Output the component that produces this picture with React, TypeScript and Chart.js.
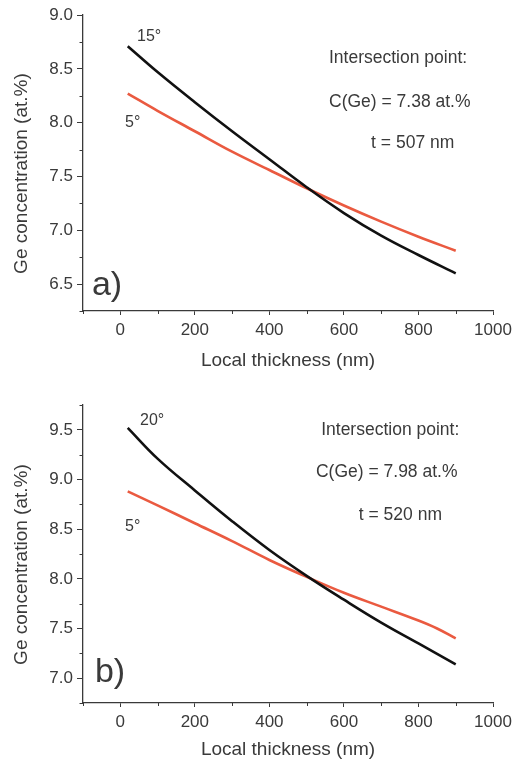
import React, { useEffect, useRef } from 'react';
import { Chart, registerables } from 'chart.js';

Chart.register(...registerables);

// ---------- data ----------
// Panel a)
const thicknessA15 = [20, 100, 200, 300, 400, 500, 600, 700, 800, 900];
const geA15 = [8.71, 8.47, 8.19, 7.92, 7.66, 7.40, 7.16, 6.95, 6.77, 6.60];
const thicknessA5 = [20, 100, 200, 300, 400, 500, 600, 700, 800, 900];
const geA5 = [8.27, 8.11, 7.92, 7.73, 7.56, 7.39, 7.23, 7.08, 6.94, 6.81];

// Panel b)
const thicknessB20 = [20, 100, 200, 300, 400, 500, 600, 700, 800, 900];
const geB20 = [9.52, 9.21, 8.89, 8.58, 8.29, 8.03, 7.79, 7.56, 7.35, 7.14];
const thicknessB5 = [20, 100, 200, 300, 400, 500, 600, 700, 800, 850, 900];
const geB5 = [8.88, 8.74, 8.56, 8.38, 8.19, 8.02, 7.86, 7.72, 7.58, 7.50, 7.40];

// Tick labels
const xTickLabels = [0, 200, 400, 600, 800, 1000];
const yTickLabelsA = [6.5, 7.0, 7.5, 8.0, 8.5, 9.0];
const yTickLabelsB = [7.0, 7.5, 8.0, 8.5, 9.0, 9.5];

// Texts
const xTitle = 'Local thickness (nm)';
const yTitle = 'Ge concentration (at.%)';
const textsA = ['15°', '5°', 'a)', 'Intersection point:', 'C(Ge) = 7.38 at.%', 't = 507 nm'];
const textsB = ['20°', '5°', 'b)', 'Intersection point:', 'C(Ge) = 7.98 at.%', 't = 520 nm'];

// ---------- styling / layout ----------
const FONT = '"Liberation Sans", Arial, Helvetica, sans-serif';
const AXIS_COLOR = '#3a3a3a';
const TEXT_COLOR = '#3a3a3a';
const BLACK = '#111111';
const RED = '#ea5a40';

// annotation placement in data coordinates (x, y) plus font size
const placeA = [
  { x: 45, y: 8.8, size: 16 },
  { x: 13, y: 8.0, size: 16 },
  { x: -76, y: 6.49, size: 34 },
  { x: 560, y: 8.6, size: 17.5 },
  { x: 560, y: 8.19, size: 17.5 },
  { x: 673, y: 7.81, size: 17.5 },
];
const placeB = [
  { x: 53, y: 9.59, size: 16 },
  { x: 13, y: 8.53, size: 16 },
  { x: -68, y: 7.06, size: 34 },
  { x: 539, y: 9.5, size: 17.5 },
  { x: 525, y: 9.07, size: 17.5 },
  { x: 640, y: 8.64, size: 17.5 },
];

const isMultiple = (v: number, step: number) =>
  Math.abs(v / step - Math.round(v / step)) < 1e-6;

const overlayPlugin = {
  id: 'overlay',
  afterDraw(chart: any, _args: any, opts: any) {
    const ctx = chart.ctx;
    const xs = chart.scales.x;
    const ys = chart.scales.y;
    ctx.save();
    // minor ticks (short)
    ctx.strokeStyle = AXIS_COLOR;
    ctx.lineWidth = 1;
    ctx.beginPath();
    xs.ticks.forEach((t: any) => {
      if (!isMultiple(t.value, 200)) {
        const px = Math.round(xs.getPixelForValue(t.value)) + 0.5;
        ctx.moveTo(px, xs.top);
        ctx.lineTo(px, xs.top + 3);
      }
    });
    ys.ticks.forEach((t: any) => {
      if (!isMultiple(t.value, 0.5)) {
        const py = Math.round(ys.getPixelForValue(t.value)) + 0.5;
        ctx.moveTo(ys.right - 3.5, py);
        ctx.lineTo(ys.right, py);
      }
    });
    ctx.stroke();
    // annotation texts
    ctx.fillStyle = TEXT_COLOR;
    ctx.textAlign = 'left';
    ctx.textBaseline = 'middle';
    (opts.texts || []).forEach((txt: string, i: number) => {
      const p = opts.place[i];
      ctx.font = `${p.size}px ${FONT}`;
      ctx.fillText(txt, xs.getPixelForValue(p.x), ys.getPixelForValue(p.y));
    });
    ctx.restore();
  },
};

type PanelProps = {
  x1: number[]; y1: number[]; x2: number[]; y2: number[];
  yMin: number; yMax: number; yLabels: number[];
  texts: string[]; place: any[];
  height: number; padTop: number; xAxisHeight: number; xTitlePad: number;
};

function Panel(p: PanelProps) {
  const ref = useRef<HTMLCanvasElement>(null);
  useEffect(() => {
    if (!ref.current) return;
    const chart = new Chart(ref.current, {
      type: 'line',
      data: {
        datasets: [
          {
            data: p.x1.map((x, i) => ({ x, y: p.y1[i] })),
            borderColor: BLACK,
            borderWidth: 2.6,
            pointRadius: 0,
            tension: 0.4,
          },
          {
            data: p.x2.map((x, i) => ({ x, y: p.y2[i] })),
            borderColor: RED,
            borderWidth: 2.6,
            pointRadius: 0,
            tension: 0.4,
          },
        ],
      },
      options: {
        animation: false,
        responsive: false,
        layout: { padding: { top: p.padTop, right: 19, left: 0, bottom: 0 } },
        plugins: {
          legend: { display: false },
          tooltip: { enabled: false },
          overlay: { texts: p.texts, place: p.place },
        } as any,
        scales: {
          x: {
            type: 'linear',
            min: -100,
            max: 1000,
            afterFit: (s: any) => {
              s.height = p.xAxisHeight;
              s.paddingLeft = 0;
              s.paddingRight = 0;
            },
            ticks: {
              stepSize: 100,
              autoSkip: false,
              maxTicksLimit: 100,
              maxRotation: 0,
              padding: 5,
              color: TEXT_COLOR,
              font: { family: FONT, size: 17 },
              callback: (v: any) => (xTickLabels.includes(Number(v)) ? String(v) : ''),
            },
            grid: {
              drawOnChartArea: false,
              drawTicks: true,
              tickLength: 4,
              tickWidth: 1,
              tickColor: (c: any) =>
                c.tick && isMultiple(c.tick.value, 200) ? AXIS_COLOR : 'rgba(0,0,0,0)',
            },
            border: { display: true, color: AXIS_COLOR, width: 1.3 },
            title: {
              display: true,
              text: xTitle,
              color: TEXT_COLOR,
              font: { family: FONT, size: 19 },
              padding: { top: 0, bottom: p.xTitlePad },
            },
          },
          y: {
            type: 'linear',
            min: p.yMin,
            max: p.yMax,
            afterFit: (s: any) => {
              s.width = 83;
              s.paddingTop = 0;
              s.paddingBottom = 0;
            },
            ticks: {
              stepSize: 0.25,
              autoSkip: false,
              maxTicksLimit: 100,
              padding: 4,
              color: TEXT_COLOR,
              font: { family: FONT, size: 17 },
              callback: (v: any) => {
                const n = Number(v);
                return p.yLabels.some((l) => Math.abs(l - n) < 1e-6) ? n.toFixed(1) : '';
              },
            },
            grid: {
              drawOnChartArea: false,
              drawTicks: true,
              tickLength: 6,
              tickWidth: 1,
              tickColor: (c: any) =>
                c.tick && isMultiple(c.tick.value, 0.5) ? AXIS_COLOR : 'rgba(0,0,0,0)',
            },
            border: { display: true, color: AXIS_COLOR, width: 1.3 },
            title: {
              display: true,
              text: yTitle + '    ',
              color: TEXT_COLOR,
              font: { family: FONT, size: 19 },
              padding: { top: 10, bottom: 0 },
            },
          },
        },
      } as any,
      plugins: [overlayPlugin],
    });
    return () => chart.destroy();
  }, []);
  return (
    <canvas
      ref={ref}
      width={512}
      height={p.height}
      style={{ display: 'block', width: 512, height: p.height }}
    />
  );
}

export default function App() {
  return (
    <div style={{ position: 'absolute', left: 0, top: 0, width: 512, height: 761, background: '#fff' }}>
      <Panel
        x1={thicknessA15} y1={geA15} x2={thicknessA5} y2={geA5}
        yMin={6.25} yMax={9.0} yLabels={yTickLabelsA}
        texts={textsA} place={placeA}
        height={380} padTop={15} xAxisHeight={69} xTitlePad={8}
      />
      <Panel
        x1={thicknessB20} y1={geB20} x2={thicknessB5} y2={geB5}
        yMin={6.75} yMax={9.75} yLabels={yTickLabelsB}
        texts={textsB} place={placeB}
        height={381} padTop={25} xAxisHeight={58} xTitlePad={0}
      />
    </div>
  );
}
